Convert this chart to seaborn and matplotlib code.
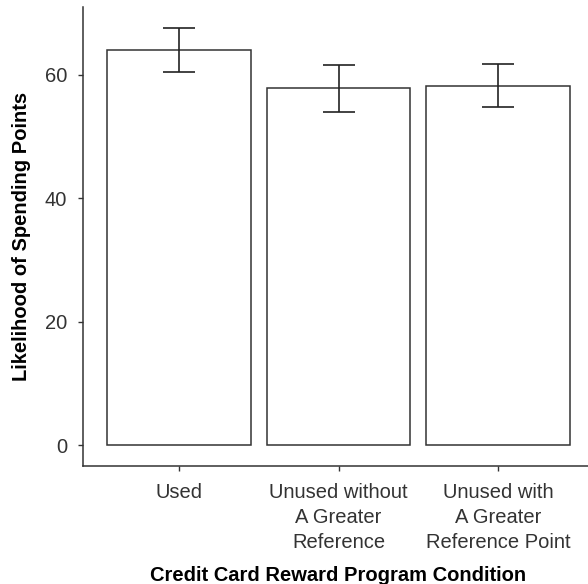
import matplotlib
matplotlib.use("Agg")
import matplotlib.pyplot as plt
import seaborn as sns
import pandas as pd
import numpy as np

conditions = ["Used", "Unused without\nA Greater\nReference", "Unused with\nA Greater\nReference Point"]
likelihood = [64.0, 57.8, 58.2]
ci_low = [60.5, 54.0, 54.7]
ci_high = [67.5, 61.6, 61.8]

df = pd.DataFrame({"condition": conditions, "likelihood": likelihood})

sns.set_theme(style="white")
plt.rcParams["font.family"] = ["Liberation Sans", "DejaVu Sans"]

fig = plt.figure(figsize=(5.88, 5.84), dpi=100)
ax = fig.add_axes([0.1412, 0.2015, 0.869, 0.786])

sns.barplot(data=df, x="condition", y="likelihood", color="white",
            edgecolor="#333333", linewidth=1.1, width=0.9, errorbar=None, ax=ax)

pos = np.arange(len(conditions))
means = np.array(likelihood)
yerr = np.vstack([means - np.array(ci_low), np.array(ci_high) - means])
ax.errorbar(pos, means, yerr=yerr, fmt="none", ecolor="#222222",
            elinewidth=1.2, capsize=11.5, capthick=1.2)

ax.set_xlim(-0.6, 2.6)
ax.set_ylim(-3.4, 70.9)
ax.set_yticks([0, 20, 40, 60])

for side in ["top", "right"]:
    ax.spines[side].set_visible(False)
for side in ["left", "bottom"]:
    ax.spines[side].set_color("#333333")
    ax.spines[side].set_linewidth(1.1)

ax.tick_params(axis="both", which="both", direction="out", length=3.3, width=1,
               color="#333333", labelsize=14.5, labelcolor="#333333",
               bottom=True, left=True)
ax.tick_params(axis="y", pad=8)
ax.tick_params(axis="x", pad=8.5)
for lab in ax.get_xticklabels():
    lab.set_linespacing(1.4)

ax.set_xlabel("Credit Card Reward Program Condition", fontsize=14.5,
              fontweight="bold", color="black", labelpad=10)
ax.set_ylabel("Likelihood of Spending Points", fontsize=14.5,
              fontweight="bold", color="black", labelpad=10)

fig.savefig("out.png", dpi=100)
